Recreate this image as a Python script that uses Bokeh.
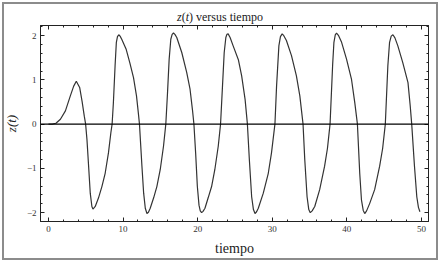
from bokeh.plotting import figure
from bokeh.models import (ColumnDataSource, Span, LinearAxis, Div,
                          SingleIntervalTicker, Range1d)
from bokeh.layouts import column
from bokeh.embed import file_html
from bokeh.resources import INLINE

# ---- data ----
t = [0, 0.5, 1.0, 1.6, 2.27, 2.93, 3.38, 3.73, 4.18, 4.5, 4.8, 4.98, 5.16, 5.38, 5.6, 5.82, 5.96,
     6.27, 6.7, 7.16, 7.6, 8.04, 8.36, 8.53, 8.7, 8.93, 9.1, 9.25, 9.42, 9.6, 9.82, 10.4, 10.9,
     11.4, 11.8, 12.05, 12.2, 12.53, 12.76, 12.98, 13.2, 13.4, 13.64, 14.09, 14.53, 14.98, 15.42,
     15.73, 15.96, 16.18, 16.4, 16.58, 16.76, 16.95, 17.2, 17.87, 18.53, 18.98, 19.3, 19.5, 19.73,
     19.96, 20.18, 20.35, 20.53, 20.72, 20.98, 21.4, 21.87, 22.3, 22.76, 23.07, 23.33, 23.56, 23.78,
     23.92, 24.09, 24.35, 24.76, 25.47, 25.9, 26.36, 26.67, 26.93, 27.24, 27.48, 27.69, 27.9, 28.13,
     28.8, 29.47, 29.9, 30.36, 30.58, 30.89, 31.1, 31.33, 31.55, 31.9, 32.58, 33.24, 33.7, 34.13,
     34.36, 34.67, 34.9, 35.1, 35.35, 35.7, 36.36, 37.02, 37.4, 37.75, 38.1, 38.27, 38.45, 38.62,
     38.9, 39.3, 39.96, 40.62, 41.07, 41.42, 41.73, 41.96, 42.2, 42.4, 42.65, 43.07, 43.73, 44.4,
     44.8, 45.16, 45.5, 45.73, 45.95, 46.18, 46.45, 46.84, 47.5, 48.2, 48.5, 48.7, 49.07, 49.38,
     49.6, 49.8]
z = [0, 0.0, 0.02, 0.11, 0.30, 0.64, 0.86, 0.97, 0.83, 0.52, 0.18, 0.0, -0.35, -0.95, -1.56, -1.86, -1.92,
     -1.86, -1.67, -1.41, -1.11, -0.65, -0.2, 0.0, 0.48, 1.32, 1.85, 1.98, 2.02, 1.99, 1.92, 1.7, 1.39,
     1.05, 0.64, 0.25, 0.0, -0.95, -1.56, -1.9, -2.02, -1.99, -1.9, -1.67, -1.41, -1.03, -0.5,
     0.0, 0.71, 1.47, 1.92, 2.03, 2.06, 2.03, 1.96, 1.62, 1.17, 0.79, 0.33, 0.0, -0.65,
     -1.41, -1.83, -1.96, -2.0, -1.97, -1.9, -1.67, -1.41, -1.03, -0.5, 0.0, 0.86, 1.62, 1.96,
     2.03, 2.04, 1.96, 1.77, 1.45, 1.09, 0.56, 0.0, -0.8, -1.64, -1.93, -2.02, -1.98, -1.9,
     -1.56, -1.11, -0.65, 0.0, 0.86, 1.77, 1.98, 2.04, 2.0, 1.89, 1.55, 1.09, 0.64, 0.0,
     -0.8, -1.64, -1.93, -2.0, -1.96, -1.86, -1.48, -0.95, -0.55, 0.0, 1.35, 1.85, 2.02, 2.06,
     2.0, 1.85, 1.47, 1.02, 0.48, 0.0, -1.11, -1.71, -1.95, -2.02, -1.96, -1.79, -1.48, -0.95,
     -0.55, 0.0, 1.32, 1.85, 1.99, 2.02, 1.95, 1.77, 1.39, 0.94, 0.41, 0.0, -0.95, -1.64,
     -1.88, -1.98]

title_html = "<i>z</i>(<i>t</i>) versus tiempo"
x_label = "tiempo"
y_label = "z(t)"
y_overrides = {-2: "\u22122", -1: "\u22121", 0: "0", 1: "1", 2: "2"}

SERIF = "Liberation Serif"

title = Div(text=title_html, width=440, height=22, margin=(0, 0, 0, 0),
            styles={"font-family": SERIF, "font-size": "12px", "line-height": "35px",
                    "color": "#222222", "text-align": "center", "width": "440px",
                    "height": "22px"})

p = figure(width=440, height=240, output_backend="svg", toolbar_location=None,
           x_range=Range1d(-1.07, 50.95), y_range=Range1d(-2.2, 2.23),
           min_border_left=38, min_border_right=12, min_border_top=3, min_border_bottom=41)
p.title = None
p.grid.visible = False
p.outline_line_color = "#222222"
p.outline_line_width = 1
p.background_fill_color = None
p.border_fill_color = None

src = ColumnDataSource(dict(t=t, z=z))
p.line("t", "z", source=src, line_color="#333333", line_width=1.2)
p.add_layout(Span(location=0, dimension="width", line_color="black", line_width=1.4))


def style_axis(ax, show_labels):
    ax.axis_line_color = "#222222"
    ax.major_tick_line_color = "#222222"
    ax.minor_tick_line_color = "#222222"
    ax.major_tick_in = 4
    ax.major_tick_out = 0
    ax.minor_tick_in = 2
    ax.minor_tick_out = 0
    ax.major_label_text_font = SERIF
    if show_labels:
        ax.major_label_text_font_size = "9px"
        ax.major_label_text_color = "#333333"
        ax.major_label_standoff = 4
    else:
        ax.major_label_text_font_size = "1px"
        ax.major_label_text_color = None
        ax.major_label_standoff = 0


p.xaxis.ticker = SingleIntervalTicker(interval=10, num_minor_ticks=5)
p.yaxis.ticker = SingleIntervalTicker(interval=1, num_minor_ticks=5)
style_axis(p.xaxis[0], True)
style_axis(p.yaxis[0], True)
p.yaxis.major_label_overrides = y_overrides
p.yaxis.major_label_orientation = "horizontal"

p.xaxis.axis_label = x_label
p.xaxis.axis_label_text_font = SERIF
p.xaxis.axis_label_text_font_style = "normal"
p.xaxis.axis_label_text_font_size = "14px"
p.xaxis.axis_label_text_color = "#222222"
p.xaxis.axis_label_standoff = 6

p.yaxis.axis_label = y_label
p.yaxis.axis_label_text_font = SERIF
p.yaxis.axis_label_text_font_style = "italic"
p.yaxis.axis_label_text_font_size = "13px"
p.yaxis.axis_label_text_color = "#222222"
p.yaxis.axis_label_standoff = 5

top = LinearAxis(ticker=SingleIntervalTicker(interval=10, num_minor_ticks=5))
style_axis(top, False)
p.add_layout(top, "above")
right = LinearAxis(ticker=SingleIntervalTicker(interval=1, num_minor_ticks=5))
style_axis(right, False)
p.add_layout(right, "right")

page = column(title, p, spacing=0, margin=(0, 0, 0, 0),
              styles={"outline": "2px solid #8c8c8c", "outline-offset": "-4px",
                      "background": "white"})

open("out.html", "w").write(file_html(page, INLINE))
